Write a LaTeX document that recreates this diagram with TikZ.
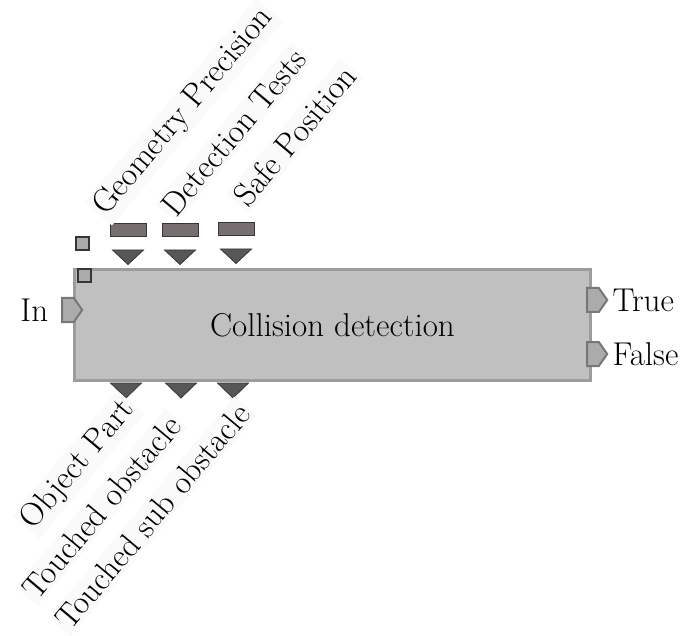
\documentclass[tikz,border=0pt]{standalone}
\usetikzlibrary{shapes.symbols, positioning}

\definecolor{blockfill}{HTML}{C0C0C0}
\definecolor{blockline}{HTML}{9C9C9C}
\definecolor{barfill}{HTML}{776F6F}
\definecolor{portfill}{HTML}{ABABAB}
\definecolor{portline}{HTML}{777777}
\definecolor{darkline}{HTML}{363636}
\definecolor{trifill}{HTML}{575757}
\definecolor{bandfill}{HTML}{FAFAFA}

\begin{document}
\begin{tikzpicture}[x=0.5pt, y=-0.5pt, font=\fontsize{16.5}{19}\selectfont,
    block/.style={draw=blockline, fill=blockfill, line width=1.5pt, minimum width=258pt, minimum height=55.5pt},
    port/.style={signal, signal to=east, signal pointer angle=110, draw=portline, fill=portfill, line width=1pt, minimum width=10pt, minimum height=12pt, inner sep=0pt},
    param/.style={draw=darkline, fill=barfill, line width=0.9pt, minimum width=18pt, minimum height=6.5pt, inner sep=0pt},
    tick/.style={draw=darkline, fill=portfill, line width=1pt, minimum size=6.5pt, inner sep=0pt},
    tag/.style={rotate=50, fill=bandfill, inner sep=1.5pt},
    tri/.style={fill=trifill, draw=darkline, line width=0.4pt}]
  \useasboundingbox (0,0) rectangle (683,635);

  % the function block
  \node[block] (block) at (332.5,325) {Collision detection};

  \node[tick] (ext) at (82,244) {};
  \node[tick] (int) at (84,276) {};

  % input / outputs
  \node[port] (in) at (68,310) {};
  \node[left=3pt of in] (inlbl) {In};
  \node[port] (true) at (593,300) {};
  \node[right=-1.5pt of true] (truelbl) {True};
  \node[port] (false) at (593,354) {};
  \node[right=-1.5pt of false] (falselbl) {False};

  % parameters on top
  \node[param] (geo) at (128.5,230) {};
  \node[param] (det) at (180.5,230) {};
  \node[param] (safe) at (236.5,229) {};
  \foreach \x/\y in {128/250, 180/250, 236/249}
    \draw[tri] (\x-15.5,\y) -- (\x+15.5,\y) -- (\x,\y+14.5) -- cycle;

  \node[tag, anchor=south west] (geolbl) at (112,226) {Geometry Precision};
  \node[tag, anchor=south west] (detlbl) at (177,223) {Detection Tests};
  \node[tag, anchor=south west] (safelbl) at (249,214) {Safe Position};

  % outputs below
  \foreach \x in {126, 181, 233}
    \draw[tri] (\x-15.5,383) -- (\x+15.5,383) -- (\x,398) -- cycle;

  \node[tag, anchor=north east] (partlbl) at (117,390) {Object Part};
  \node[tag, anchor=north east] (obstlbl) at (165,408) {Touched obstacle};
  \node[tag, anchor=north east] (sublbl) at (234,396) {Touched sub obstacle};
\end{tikzpicture}
\end{document}
